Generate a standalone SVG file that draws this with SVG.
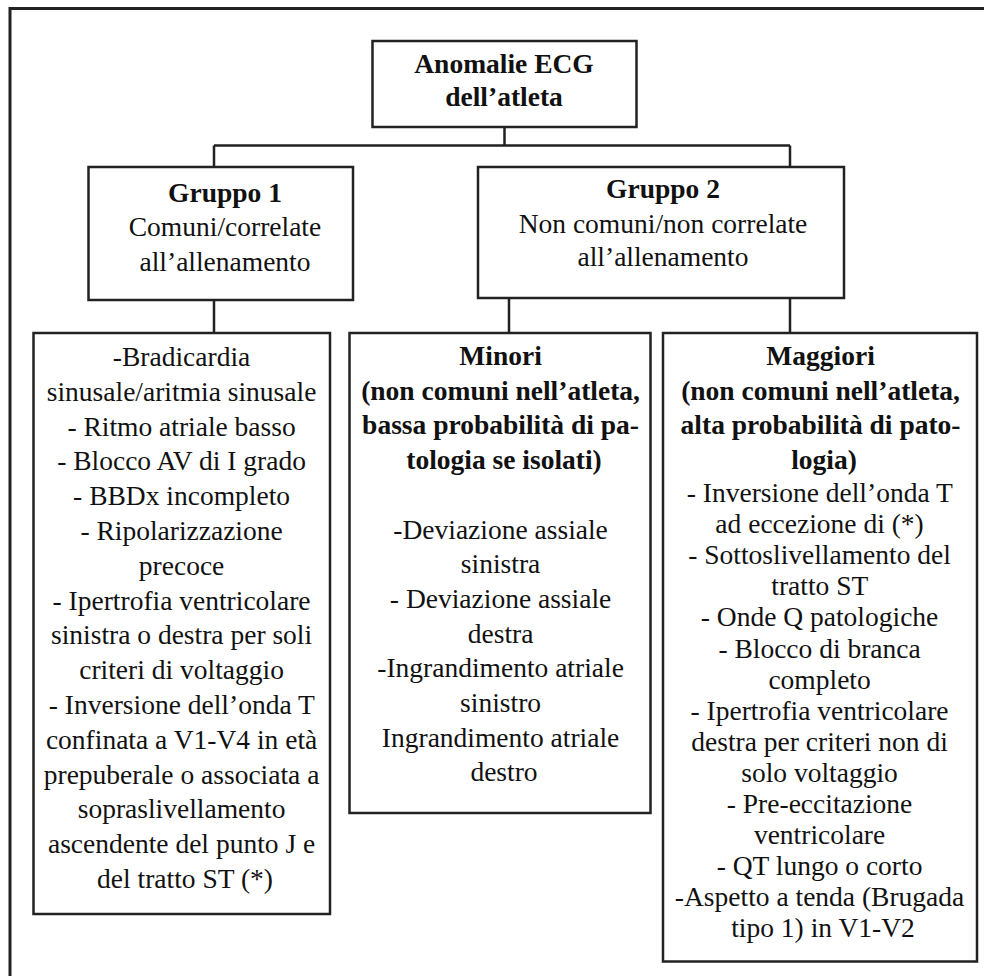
<svg xmlns="http://www.w3.org/2000/svg" width="984" height="976" viewBox="0 0 984 976">
<style>
.box{fill:#fff;stroke:#222;stroke-width:2.5}
.frame{fill:none;stroke:#222;stroke-width:3}
.conn{fill:none;stroke:#222;stroke-width:2.5}
text{font-family:"Liberation Serif","Times New Roman",serif;font-size:27.5px;fill:#111;text-anchor:middle}
.b{font-weight:bold}
</style>
<rect width="984" height="976" fill="#fff"/>
<path class="frame" d="M10,976 V8.5 H984"/>
<g id="connectors">
<path class="conn" d="M504.5,127 V145.5 M214,145.5 H790 M214,145.5 V167 M790,145.5 V167"/>
<path class="conn" d="M214,300 V333"/>
<path class="conn" d="M509,298 V333 M790,298 V333"/>
</g>
<g id="root">
<rect class="box" x="372.5" y="41" width="264" height="86"/>
<text class="b" x="504" y="73">Anomalie ECG</text>
<text class="b" x="504" y="106">dell’atleta</text>
</g>
<g id="gruppo1">
<rect class="box" x="88.5" y="167" width="264.5" height="133"/>
<text class="b" x="225" y="201.5">Gruppo 1</text>
<text x="225" y="236">Comuni/correlate</text>
<text x="225" y="270.5">all’allenamento</text>
</g>
<g id="gruppo2">
<rect class="box" x="478" y="167" width="366" height="131"/>
<text class="b" x="663" y="198">Gruppo 2</text>
<text x="663" y="233">Non comuni/non correlate</text>
<text x="663" y="266">all’allenamento</text>
</g>
<g id="comuni">
<rect class="box" x="33.5" y="333" width="296.5" height="581"/>
<text x="185">
<tspan x="185" y="366">-Bradicardia</tspan>
<tspan x="185" y="400.8">sinusale/aritmia sinusale</tspan>
<tspan x="185" y="435.6">- Ritmo atriale basso</tspan>
<tspan x="185" y="470.4">- Blocco AV di I grado</tspan>
<tspan x="185" y="505.2">- BBDx incompleto</tspan>
<tspan x="185" y="540">- Ripolarizzazione</tspan>
<tspan x="185" y="574.8">precoce</tspan>
<tspan x="185" y="609.6">- Ipertrofia ventricolare</tspan>
<tspan x="185" y="644.4">sinistra o destra per soli</tspan>
<tspan x="185" y="679.2">criteri di voltaggio</tspan>
<tspan x="185" y="714">- Inversione dell’onda T</tspan>
<tspan x="185" y="748.8">confinata a V1-V4 in età</tspan>
<tspan x="185" y="783.6">prepuberale o associata a</tspan>
<tspan x="185" y="818.4">sopraslivellamento</tspan>
<tspan x="185" y="853.2">ascendente del punto J e</tspan>
<tspan x="185" y="888">del tratto ST (*)</tspan>
</text>
</g>
<g id="minori">
<rect class="box" x="349.5" y="333" width="301" height="480"/>
<text class="b" x="504">
<tspan x="504" y="365">Minori</tspan>
<tspan x="504" y="399.7">(non comuni nell’atleta,</tspan>
<tspan x="504" y="434.4">bassa probabilità di pa-</tspan>
<tspan x="504" y="469.1">tologia se isolati)</tspan>
</text>
<text x="504">
<tspan x="504" y="538.5">-Deviazione assiale</tspan>
<tspan x="504" y="573.2">sinistra</tspan>
<tspan x="504" y="607.9">- Deviazione assiale</tspan>
<tspan x="504" y="642.6">destra</tspan>
<tspan x="504" y="677.3">-Ingrandimento atriale</tspan>
<tspan x="504" y="712">sinistro</tspan>
<tspan x="504" y="746.7">Ingrandimento atriale</tspan>
<tspan x="504" y="781.4">destro</tspan>
</text>
</g>
<g id="maggiori">
<rect class="box" x="663" y="333" width="314" height="628.5"/>
<text class="b" x="824">
<tspan x="824" y="365">Maggiori</tspan>
<tspan x="824" y="399.7">(non comuni nell’atleta,</tspan>
<tspan x="824" y="434.4">alta probabilità di pato-</tspan>
<tspan x="824" y="469.1">logia)</tspan>
</text>
<text x="823">
<tspan x="823" y="502">- Inversione dell’onda T</tspan>
<tspan x="823" y="533.1">ad eccezione di (*)</tspan>
<tspan x="823" y="564.2">- Sottoslivellamento del</tspan>
<tspan x="823" y="595.3">tratto ST</tspan>
<tspan x="823" y="626.4">- Onde Q patologiche</tspan>
<tspan x="823" y="657.5">- Blocco di branca</tspan>
<tspan x="823" y="688.6">completo</tspan>
<tspan x="823" y="719.7">- Ipertrofia ventricolare</tspan>
<tspan x="823" y="750.8">destra per criteri non di</tspan>
<tspan x="823" y="781.9">solo voltaggio</tspan>
<tspan x="823" y="813">- Pre-eccitazione</tspan>
<tspan x="823" y="844.1">ventricolare</tspan>
<tspan x="823" y="875.2">- QT lungo o corto</tspan>
<tspan x="823" y="906.3">-Aspetto a tenda (Brugada</tspan>
<tspan x="823" y="937.4">tipo 1) in V1-V2</tspan>
</text>
</g>
</svg>
